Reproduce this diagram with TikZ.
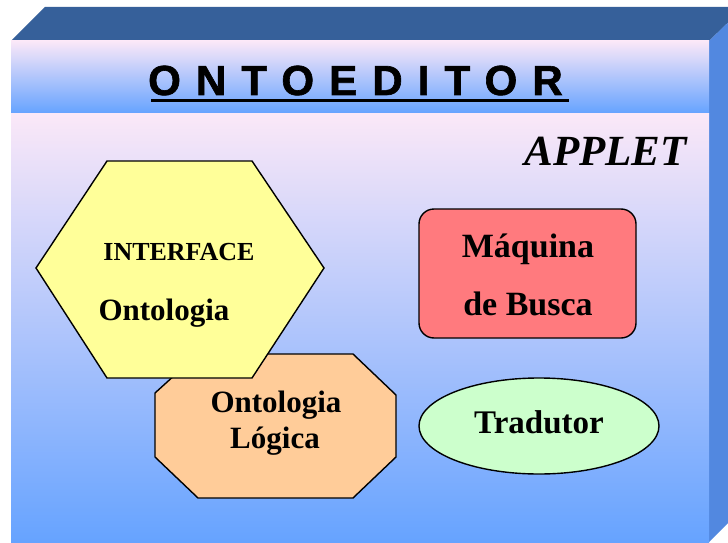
\documentclass[tikz,border=0pt]{standalone}
\usepackage{fontspec}
\setmainfont{Liberation Serif}
\newfontfamily\titlefont[LetterSpace=36,FakeBold=1.5]{Liberation Sans}
\usetikzlibrary{shapes.geometric}
\definecolor{topface}{HTML}{36609A}
\definecolor{sideface}{HTML}{5288E0}
\definecolor{pinktop}{HTML}{FBE8F8}
\definecolor{bluebot}{HTML}{66A3FF}
\definecolor{hexfill}{HTML}{FFFF99}
\definecolor{octfill}{HTML}{FFCC99}
\definecolor{maqfill}{HTML}{FF7A7E}
\definecolor{tradfill}{HTML}{CCFFCC}
\tikzset{
  shapeline/.style={draw=black, line width=1.4pt, line join=miter},
  lbl/.style={inner sep=0pt, anchor=base, text=black},
  bigbold/.style={font=\fontsize{33}{36}\selectfont\bfseries},
  midbold/.style={font=\fontsize{31}{34}\selectfont\bfseries}
}
\begin{document}
\begin{tikzpicture}[x=1pt,y=-1pt]
\useasboundingbox (0,0) rectangle (728,543);
\clip (0,0) rectangle (728,543);
% box faces
\fill[topface] (11,41) -- (45,7) -- (744,7) -- (709,41) -- cycle;
\fill[sideface] (709,41) -- (744,7) -- (744,507) -- (709,542) -- cycle;
\shade[top color=pinktop, bottom color=bluebot] (11,41) rectangle (709,113);
\shade[top color=pinktop, bottom color=bluebot] (11,113) rectangle (709,542);
% title
\node[lbl, anchor=base west, font=\titlefont\fontsize{42}{46}\selectfont\bfseries] (title) at (148,95) {ONTOEDITOR};
\coordinate (ulA) at (151,100);
\coordinate (ulB) at (569,100);
\draw[line width=3pt] (ulA) -- (ulB);
% applet
\node[lbl, anchor=base east, font=\fontsize{43}{46}\selectfont\bfseries\itshape] (applet) at (687,165) {APPLET};
% octagon (behind hexagon)
\draw[shapeline, fill=octfill] (198,354) -- (353,354) -- (396,395) -- (396,457) -- (353,498) -- (198,498) -- (155,457) -- (155,393) -- cycle;
\node[lbl, midbold] (olog1) at (276,412) {Ontologia};
\node[lbl, midbold] (olog2) at (275,448) {Lógica};
% hexagon
\draw[shapeline, fill=hexfill] (36,268) -- (107,161) -- (252,161) -- (324,268) -- (252,378) -- (107,378) -- cycle;
\node[lbl, font=\fontsize{26}{30}\selectfont\bfseries] (iface) at (179,260) {INTERFACE};
\node[lbl, midbold] (onto) at (164,320) {Ontologia};
% maquina de busca
\node[shapeline, fill=maqfill, rounded corners=15pt, minimum width=217pt, minimum height=129pt, inner sep=0pt] (maq) at (527.5,273.5) {};
\node[lbl, font=\fontsize{34}{36}\selectfont\bfseries] (maq1) at (528,257) {Máquina};
\node[lbl, font=\fontsize{34}{36}\selectfont\bfseries] (maq2) at (528,315) {de Busca};
% tradutor
\node[shapeline, ellipse, fill=tradfill, minimum width=240pt, minimum height=96pt, inner sep=0pt] (trad) at (539,426) {};
\node[lbl, bigbold] (tradt) at (539,433) {Tradutor};
\end{tikzpicture}
\end{document}
